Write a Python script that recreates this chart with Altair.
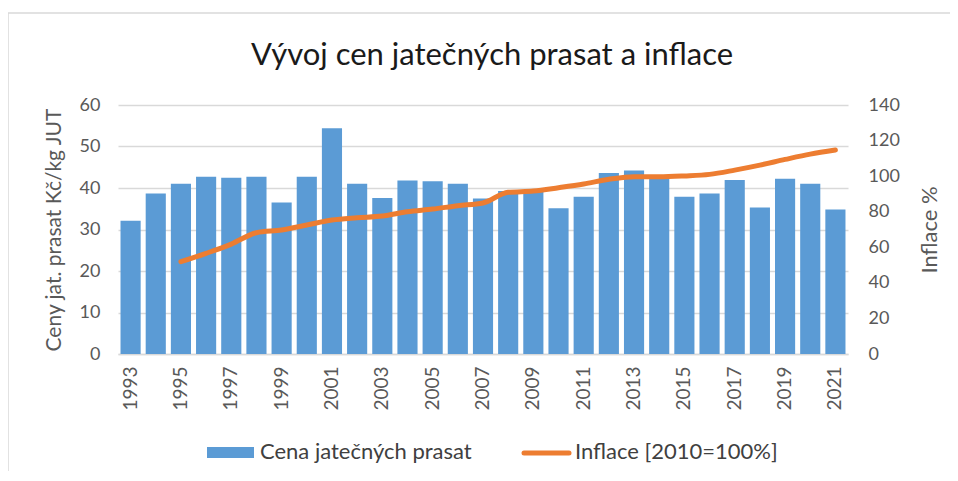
import altair as alt
import pandas as pd

years = [str(y) for y in range(1993, 2022)]
prices = [32.1, 38.7, 41.0, 42.7, 42.5, 42.7, 36.5, 42.7, 54.4, 41.0,
          37.6, 41.8, 41.6, 41.0, 37.5, 39.3, 39.2, 35.1, 37.9, 43.6,
          44.2, 42.6, 37.9, 38.7, 41.9, 35.3, 42.2, 41.0, 34.8]
infl_years = [str(y) for y in range(1995, 2022)]
inflation = [51.9, 56.6, 61.8, 68.2, 69.7, 72.5, 75.3, 76.6, 77.6, 80.0,
             81.5, 83.4, 84.9, 90.9, 91.6, 93.5, 95.6, 98.2, 99.7, 99.6,
             100.1, 101.0, 103.4, 106.2, 109.4, 112.4, 114.7]
label_years = [str(y) for y in range(1993, 2022, 2)]
left_ticks = [0, 10, 20, 30, 40, 50, 60]
right_ticks = [0, 20, 40, 60, 80, 100, 120, 140]
legend_labels = ["Cena jatečných prasat", "Inflace [2010=100%]"]
chart_title = "Vývoj cen jatečných prasat a inflace"

bars_df = pd.DataFrame({"rok": years, "cena": prices})
line_df = pd.DataFrame({"rok": infl_years, "inflace": inflation})
one_df = pd.DataFrame({"k": [0]})

FONT = "Lato"
GREY = "#595959"
BLUE = "#5b9bd5"
ORANGE = "#ed7d31"
GRID = "#d9d9d9"

x_enc = alt.X(
    "rok:N",
    scale=alt.Scale(domain=years, paddingInner=0.2, paddingOuter=0.1),
    axis=alt.Axis(title=None, values=label_years, labelAngle=-90, labelPadding=12,
                  ticks=False, tickSize=0, domainColor=GRID, domainWidth=1.3,
                  labelFont=FONT, labelFontSize=19, labelColor=GREY, grid=False),
)

bars = alt.Chart(bars_df).mark_bar(color=BLUE).encode(
    x=x_enc,
    y=alt.Y("cena:Q", scale=alt.Scale(domain=[0, 60], nice=False),
            axis=alt.Axis(title="Ceny jat. prasat Kč/kg JUT", orient="left", values=left_ticks,
                          grid=True, gridColor=GRID, gridWidth=1.3, domain=False, ticks=False,
                          tickSize=0, labelPadding=18, labelFont=FONT, labelFontSize=18,
                          labelColor=GREY, titleFont=FONT, titleFontSize=21,
                          titleFontWeight="normal", titleColor=GREY, titlePadding=15)),
)

line = alt.Chart(line_df).mark_line(color=ORANGE, strokeWidth=5, strokeCap="round",
                                    strokeJoin="round", interpolate="monotone").encode(
    x=alt.X("rok:N", scale=alt.Scale(domain=years)),
    y=alt.Y("inflace:Q", scale=alt.Scale(domain=[0, 140], nice=False),
            axis=alt.Axis(title="Inflace %", orient="right", values=right_ticks,
                          grid=False, domain=False, ticks=False, tickSize=0, labelPadding=20,
                          labelFont=FONT, labelFontSize=18, labelColor=GREY,
                          titleFont=FONT, titleFontSize=22, titleFontWeight="normal",
                          titleColor=GREY, titlePadding=42, titleAngle=270)),
)

border = alt.Chart(one_df).mark_rect(fillOpacity=0, stroke=GRID, strokeWidth=1.5).encode(
    x=alt.value(-110), x2=alt.value(900), y=alt.value(-92), y2=alt.value(500)
)
title_mark = alt.Chart(one_df).mark_text(align="center", baseline="alphabetic", font=FONT,
                                         fontSize=31, color="#1a1a1a",
                                         text=chart_title).encode(
    x=alt.value(374), y=alt.value(-40)
)
leg_rect = alt.Chart(one_df).mark_rect(color=BLUE).encode(
    x=alt.value(89), x2=alt.value(136), y=alt.value(342), y2=alt.value(353)
)
leg_line = alt.Chart(one_df).mark_rule(color=ORANGE, strokeWidth=5, strokeCap="round").encode(
    x=alt.value(406), x2=alt.value(451), y=alt.value(348)
)
leg_text1 = alt.Chart(one_df).mark_text(align="left", baseline="middle", font=FONT,
                                        fontSize=22, color="#404040",
                                        text=legend_labels[0]).encode(
    x=alt.value(142), y=alt.value(347)
)
leg_text2 = alt.Chart(one_df).mark_text(align="left", baseline="middle", font=FONT,
                                        fontSize=22, color="#404040",
                                        text=legend_labels[1]).encode(
    x=alt.value(457), y=alt.value(347)
)

chart = alt.layer(border, title_mark, bars, line, leg_rect, leg_line, leg_text1,
                  leg_text2).resolve_scale(
    y="independent"
).properties(
    width=730,
    height=249,
    padding={"left": 110, "top": 97, "right": 102, "bottom": 117},
    autosize=alt.AutoSizeParams(type="none"),
).configure_view(stroke=None)

chart.save("out.html", embed_options={"renderer": "svg", "actions": False})
